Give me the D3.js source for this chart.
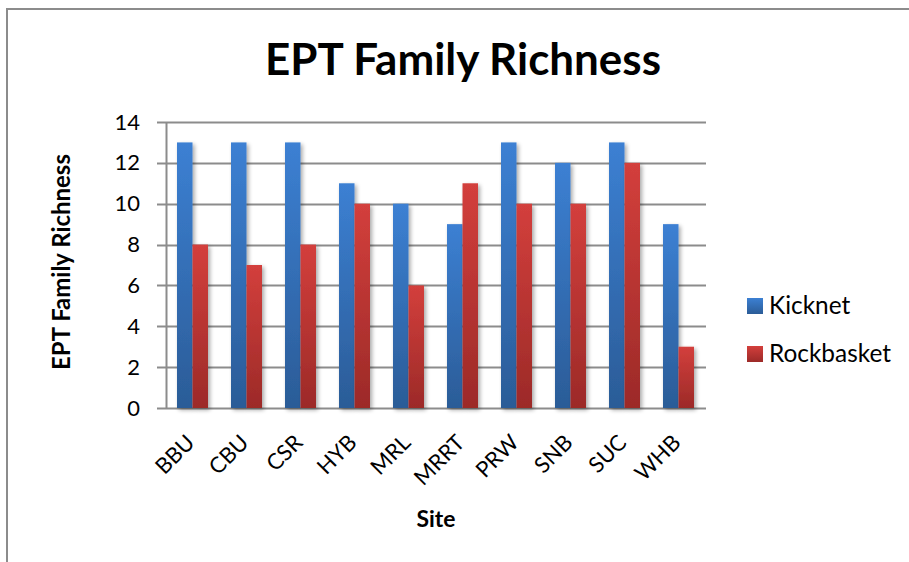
<!DOCTYPE html>
<html>
<head>
<meta charset="utf-8">
<script src="https://cdn.jsdelivr.net/npm/d3@7"></script>
<style>
  body { margin: 0; background: #fff; }
  svg { display: block; font-family: Lato, "Open Sans", sans-serif; }
</style>
</head>
<body>
<svg id="chart" width="909" height="562"></svg>
<script>
// data
var sites = ["BBU", "CBU", "CSR", "HYB", "MRL", "MRRT", "PRW", "SNB", "SUC", "WHB"];
var seriesNames = ["Kicknet", "Rockbasket"];
var kicknet = [13, 13, 13, 11, 10, 9, 13, 12, 13, 9];
var rockbasket = [8, 7, 8, 10, 6, 11, 10, 10, 12, 3];
var yTicks = [0, 2, 4, 6, 8, 10, 12, 14];

var svg = d3.select('#chart');
var margin = {left: 166, right: 203, top: 122, bottom: 154};
var width = 909, height = 562;
var plotW = width - margin.left - margin.right;
var plotH = height - margin.top - margin.bottom;

// scale a text node's font so it spans the wanted width
function fitText(sel, base, want) {
  sel.attr('font-size', base);
  var w = sel.node().getComputedTextLength();
  sel.attr('font-size', base * want / w);
}

// gradients + shadow, excel-ish
var defs = svg.append('defs');
var grads = [
  {id: 'g-blue', top: '#3c80d3', bottom: '#2b5c97'},
  {id: 'g-red', top: '#d33f3c', bottom: '#9c2a28'}
];
grads.forEach(function(g) {
  var lg = defs.append('linearGradient').attr('id', g.id)
    .attr('x1', 0).attr('y1', 0).attr('x2', 0).attr('y2', 1);
  lg.append('stop').attr('offset', '0%').attr('stop-color', g.top);
  lg.append('stop').attr('offset', '100%').attr('stop-color', g.bottom);
});
var f = defs.append('filter').attr('id', 'shadow')
  .attr('x', '-20%').attr('y', '-5%').attr('width', '160%').attr('height', '115%');
f.append('feGaussianBlur').attr('in', 'SourceAlpha').attr('stdDeviation', 2);
f.append('feOffset').attr('dx', 2).attr('dy', 2).attr('result', 'b');
f.append('feComponentTransfer').append('feFuncA').attr('type', 'linear').attr('slope', 0.35);
var merge = f.append('feMerge');
merge.append('feMergeNode');
merge.append('feMergeNode').attr('in', 'SourceGraphic');

// outer frame (only top and left visible)
svg.append('path')
  .attr('d', 'M7,' + height + 'V9H' + width)
  .attr('fill', 'none').attr('stroke', '#8c8c8c').attr('stroke-width', 2);

var g = svg.append('g').attr('transform', 'translate(' + margin.left + ',' + margin.top + ')');

var x = d3.scaleBand().domain(sites).range([0, plotW]).paddingInner(0).paddingOuter(0);
var x1 = d3.scaleBand().domain(seriesNames).range([11, 42]);
var y = d3.scaleLinear().domain([0, 14]).range([plotH, 0]);

// gridlines + ticks
g.append('g').selectAll('line').data(yTicks).enter().append('line')
  .attr('x1', -9).attr('x2', plotW)
  .attr('y1', function(d) { return Math.round(y(d)) + 0.5; })
  .attr('y2', function(d) { return Math.round(y(d)) + 0.5; })
  .attr('stroke', '#8c8c8c').attr('stroke-width', 2);

g.append('line')
  .attr('x1', 0.5).attr('x2', 0.5).attr('y1', 0).attr('y2', plotH)
  .attr('stroke', '#8c8c8c').attr('stroke-width', 2);

var yAxis = g.append('g').attr('transform', 'translate(-26,0)')
  .call(d3.axisLeft(y).tickValues(yTicks).tickSize(0).tickPadding(0));
yAxis.select('.domain').remove();
yAxis.selectAll('text').attr('font-size', 22).attr('fill', '#000')
  .attr('font-family', 'Lato, sans-serif');

// bars
var data = [kicknet, rockbasket];
var groups = g.selectAll('.site').data(sites).enter().append('g')
  .attr('class', 'site')
  .attr('transform', function(d) { return 'translate(' + x(d) + ',0)'; });

groups.selectAll('rect')
  .data(function(d, i) { return seriesNames.map(function(s, j) { return {s: s, v: data[j][i]}; }); })
  .enter().append('rect')
  .attr('x', function(d) { return x1(d.s); })
  .attr('width', x1.bandwidth())
  .attr('y', function(d) { return y(d.v); })
  .attr('height', function(d) { return plotH - y(d.v); })
  .attr('fill', function(d) { return d.s === 'Kicknet' ? 'url(#g-blue)' : 'url(#g-red)'; })
  .attr('filter', 'url(#shadow)');

// x labels rotated
var xAxis = g.append('g').attr('transform', 'translate(0,' + plotH + ')')
  .call(d3.axisBottom(x).tickSize(0).tickPadding(0));
xAxis.select('.domain').remove();
xAxis.selectAll('text')
  .attr('font-size', 22).attr('fill', '#000')
  .attr('font-family', 'Lato, sans-serif')
  .attr('text-anchor', 'end')
  .attr('dy', 0)
  .attr('transform', 'translate(3,36) rotate(-45)');

// titles
var title = svg.append('text')
  .attr('x', 463).attr('y', 75)
  .attr('text-anchor', 'middle')
  .attr('font-weight', 'bold')
  .text('EPT Family Richness');
fitText(title, 40, 396);

var yTitle = svg.append('text')
  .attr('transform', 'translate(70,262) rotate(-90)')
  .attr('text-anchor', 'middle')
  .attr('font-weight', 'bold')
  .text('EPT Family Richness');
fitText(yTitle, 18, 216);

var xTitle = svg.append('text')
  .attr('x', margin.left + plotW / 2).attr('y', 527)
  .attr('text-anchor', 'middle')
  .attr('font-weight', 'bold')
  .text('Site');
fitText(xTitle, 18, 39);

// legend
var legend = svg.append('g').attr('transform', 'translate(747,298)');
var li = legend.selectAll('g').data(seriesNames).enter().append('g')
  .attr('transform', function(d, i) { return 'translate(0,' + (i * 48) + ')'; });
li.append('rect').attr('width', 16).attr('height', 16)
  .attr('fill', function(d, i) { return i === 0 ? 'url(#g-blue)' : 'url(#g-red)'; });
var lt = li.append('text').attr('x', 22).attr('y', 16)
  .text(function(d) { return d; });
fitText(d3.select(lt.nodes()[1]), 20, 122);
lt.attr('font-size', d3.select(lt.nodes()[1]).attr('font-size'));
</script>
</body>
</html>
